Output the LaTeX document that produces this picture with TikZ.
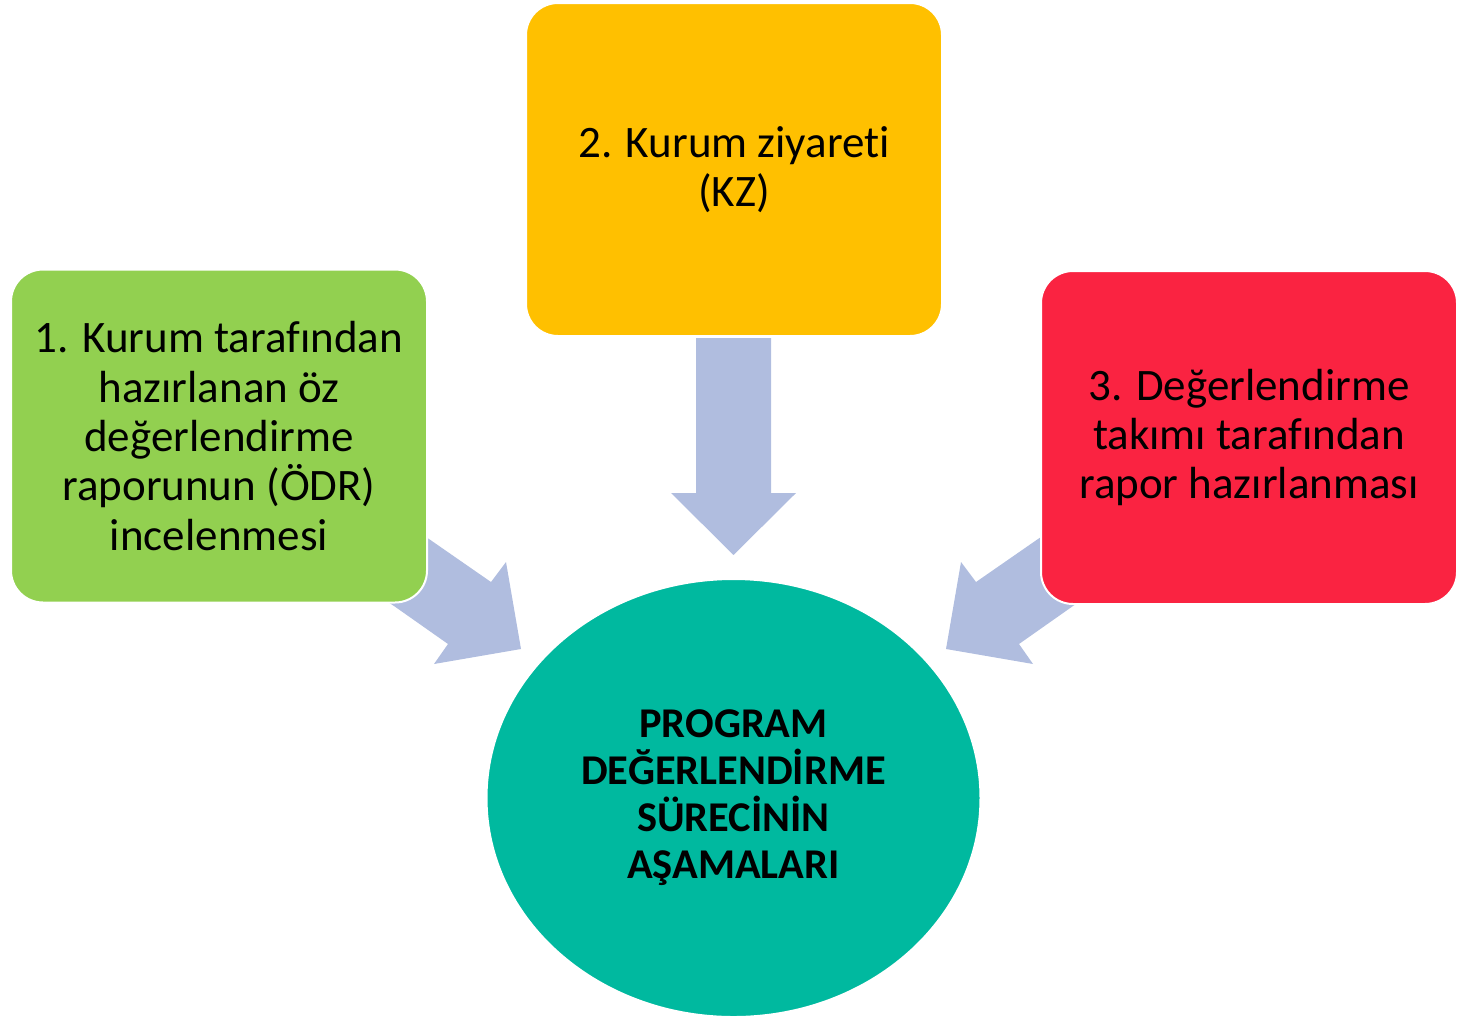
\documentclass[tikz,border=0pt]{standalone}
\usepackage{fontspec}
\setmainfont{Carlito}[Ligatures=NoCommon]
\usetikzlibrary{shapes.geometric}
\definecolor{boxgreen}{HTML}{92D050}
\definecolor{boxyellow}{HTML}{FFC000}
\definecolor{boxred}{HTML}{FA2341}
\definecolor{circteal}{HTML}{00B99F}
\definecolor{arrowblue}{HTML}{B0BDDF}
\tikzset{
  stepbox/.style={rectangle, rounded corners=16pt, draw=white, line width=1pt,
    minimum width=208pt, minimum height=166.5pt, inner sep=0pt, align=center,
    font=\fontsize{22.5}{24.7}\selectfont, text=black},
  centerell/.style={ellipse, fill=circteal, draw=white, line width=1pt,
    minimum width=247pt, minimum height=219pt, inner sep=0pt, align=center,
    font=\fontsize{21.2}{23.5}\selectfont\bfseries, text=black},
  blockarrow/.style={fill=arrowblue, draw=none}
}
\begin{document}
\begin{tikzpicture}[x=0.5pt,y=-0.5pt]
\useasboundingbox (0,0) rectangle (1465,1017);
% block arrows
\fill[blockarrow] (696,338) -- (771,338) -- (771,493) -- (796,493) -- (733.5,555) -- (671,493) -- (696,493) -- cycle;
\fill[blockarrow] (400,520) -- (429,539) -- (491,582) -- (506,562) -- (521,649) -- (434,664) -- (448,644) -- (394,606) -- (370,590) -- cycle;
\fill[blockarrow] (1067,520) -- (1038,539) -- (976,582) -- (961,562) -- (946,649) -- (1033,664) -- (1019,644) -- (1073,606) -- (1097,590) -- cycle;
% boxes
\node[stepbox, fill=boxgreen] (s1) at (219,436) {1. Kurum tarafından\\hazırlanan öz\\değerlendirme\\raporunun (ÖDR)\\incelenmesi};
\node[stepbox, fill=boxyellow] (s2) at (734,169.5) {2. Kurum ziyareti\\(KZ)};
\node[stepbox, fill=boxred] (s3) at (1249,437.5) {3. Değerlendirme\\takımı tarafından\\rapor hazırlanması};
\node[centerell] (c) at (733.5,798) {PROGRAM\\DEĞERLENDİRME\\SÜRECİNİN\\AŞAMALARI};
\end{tikzpicture}
\end{document}
